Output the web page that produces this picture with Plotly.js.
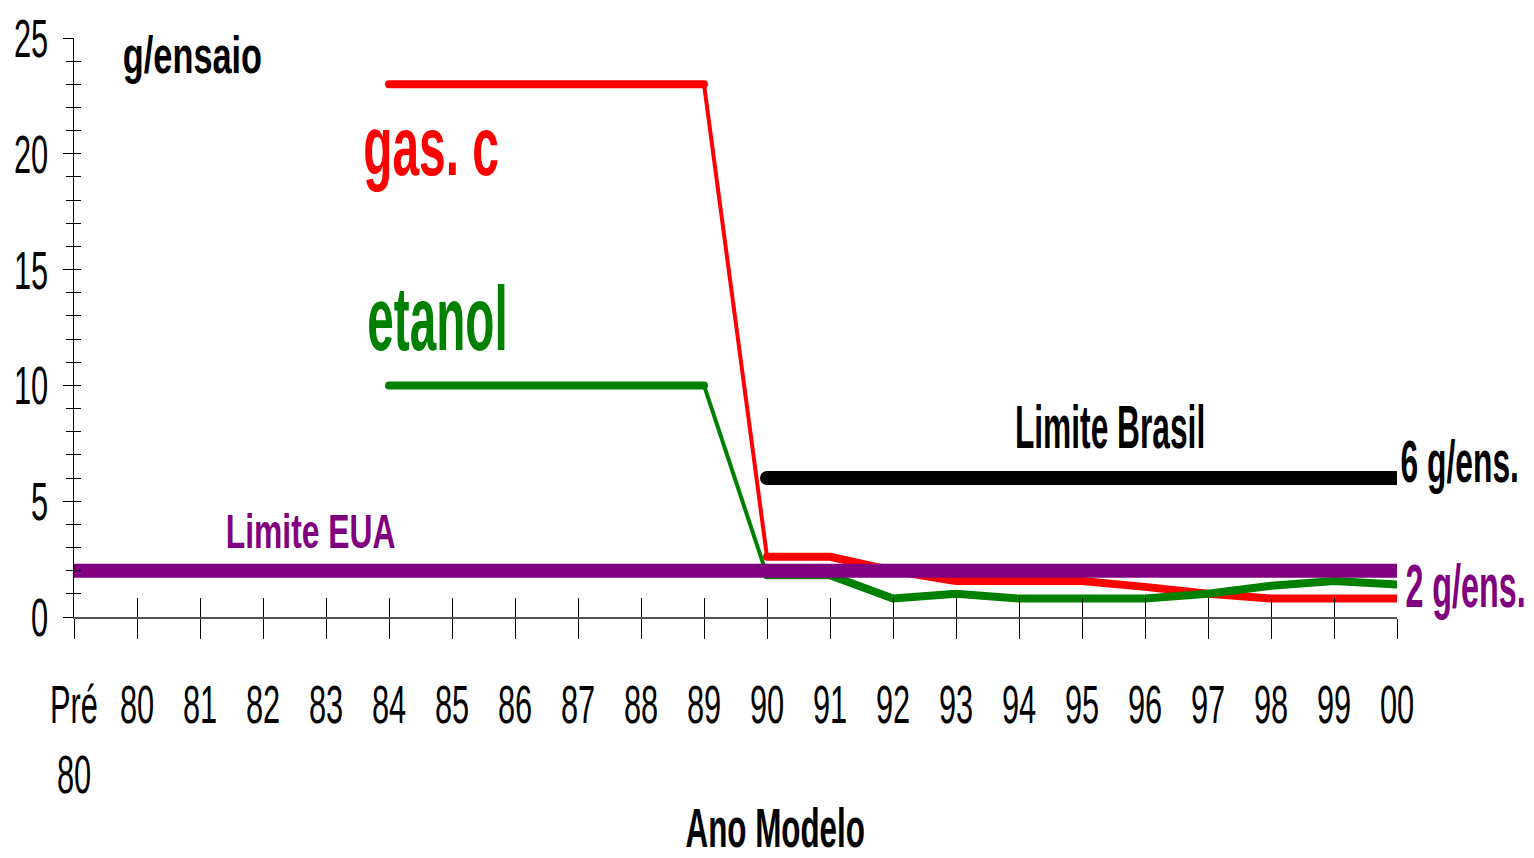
<!DOCTYPE html>
<html>
<head>
<meta charset="utf-8">
<script src="https://cdn.plot.ly/plotly-3.0.1.min.js"></script>
<style>
  html, body { margin: 0; padding: 0; background: #fff; }
  #chart { width: 1534px; height: 858px; }
</style>
</head>
<body>
<div id="chart"></div>
<script>
// ---- data ----
const years = ['Pré 80','80','81','82','83','84','85','86','87','88','89','90','91','92','93','94','95','96','97','98','99','00'];
const tickLabels = ['Pré<br>80','80','81','82','83','84','85','86','87','88','89','90','91','92','93','94','95','96','97','98','99','00'];
const gasC   = [null,null,null,null,null,23,23,23,23,23,23,2.6,2.6,2.0,1.55,1.55,1.55,1.3,1.0,0.8,0.8,0.8];
const etanol = [null,null,null,null,null,10,10,10,10,10,10,1.8,1.8,0.8,1.0,0.8,0.8,0.8,1.0,1.35,1.55,1.4];
const limiteBrasil = [null,null,null,null,null,null,null,null,null,null,null,6,6,6,6,6,6,6,6,6,6,6];
const limiteEUA = [2,2,2,2,2,2,2,2,2,2,2,2,2,2,2,2,2,2,2,2,2,2];

const FONT = 'Liberation Sans, Arial, sans-serif';
const iDrop = years.indexOf('89');   // start of steep drop segment
const iLow = years.indexOf('90');

function seg(arr, a, b) { return arr.slice(a, b); }

const traces = [
  // gasolina C
  {x: seg(years, 0, iDrop + 1), y: seg(gasC, 0, iDrop + 1), mode: 'lines', line: {color: '#ff0000', width: 8}, xaxis: 'x', yaxis: 'y'},
  {x: seg(years, iDrop, iLow + 1), y: seg(gasC, iDrop, iLow + 1), mode: 'lines', line: {color: '#ff0000', width: 4}, xaxis: 'x', yaxis: 'y'},
  {x: seg(years, iLow), y: seg(gasC, iLow), mode: 'lines', line: {color: '#ff0000', width: 8}, xaxis: 'x', yaxis: 'y'},
  // etanol
  {x: seg(years, 0, iDrop + 1), y: seg(etanol, 0, iDrop + 1), mode: 'lines', line: {color: '#008000', width: 8}, xaxis: 'x', yaxis: 'y'},
  {x: seg(years, iDrop, iLow + 1), y: seg(etanol, iDrop, iLow + 1), mode: 'lines', line: {color: '#008000', width: 4}, xaxis: 'x', yaxis: 'y'},
  {x: seg(years, iLow), y: seg(etanol, iLow), mode: 'lines', line: {color: '#008000', width: 8}, xaxis: 'x', yaxis: 'y'},
  // Limite Brasil
  {x: years, y: limiteBrasil, mode: 'lines', line: {color: '#000000', width: 14}, xaxis: 'x', yaxis: 'y'},
  // Limite EUA (drawn on the overlay so it sits on top)
  {x: years, y: limiteEUA, mode: 'lines', line: {color: '#800080', width: 14}, xaxis: 'x2', yaxis: 'y2'}
];

const annos = [
  {text: 'g/ensaio', x: 0.0899, y: 0.970, size: 52, color: '#000000', sx: 0.66},
  {text: 'gas. c', x: 0.2698, y: 0.8129, size: 84, color: '#ff0000', sx: 0.57},
  {text: 'etanol', x: 0.2751, y: 0.5153, size: 90, color: '#008000', sx: 0.53},
  {text: 'Limite Brasil', x: 0.7831, y: 0.3287, size: 61, color: '#000000', sx: 0.52},
  {text: '6 g/ens.', x: 1.0476, y: 0.2694, size: 60, color: '#000000', sx: 0.53},
  {text: '2 g/ens.', x: 1.0514, y: 0.0537, size: 61, color: '#800080', sx: 0.53},
  {text: 'Limite EUA', x: 0.1784, y: 0.149, size: 49, color: '#800080', sx: 0.65},
  {text: 'Ano Modelo', x: 0.5299, y: -0.3635, size: 56, color: '#000000', sx: 0.56}
];

const xCommon = {
  type: 'category', categoryorder: 'array', categoryarray: years,
  range: [0, years.length - 1], showgrid: false, zeroline: false, fixedrange: true, automargin: false
};
const yCommon = { range: [0, 25], showgrid: false, zeroline: false, fixedrange: true, automargin: false };

const layout = {
  width: 1534, height: 858,
  margin: {l: 74, r: 137, t: 38, b: 241, pad: 0},
  paper_bgcolor: '#ffffff', plot_bgcolor: '#ffffff',
  showlegend: false,
  xaxis: Object.assign({}, xCommon, {
    tickmode: 'array', tickvals: years, ticktext: tickLabels, tickangle: 0,
    ticks: 'outside', ticklen: 20, tickwidth: 1, tickcolor: '#000',
    showline: true, linecolor: '#555', linewidth: 1.5,
    ticklabelstandoff: 20,
    tickfont: {family: FONT, size: 54, color: '#000'}
  }),
  xaxis2: Object.assign({}, xCommon, {
    overlaying: 'x', anchor: 'y2', side: 'bottom',
    tickmode: 'array', tickvals: years, ticks: 'inside', ticklen: 19, tickwidth: 1, tickcolor: '#000',
    showticklabels: false, showline: false
  }),
  yaxis: Object.assign({}, yCommon, {
    tickmode: 'linear', tick0: 0, dtick: 5,
    ticks: 'outside', ticklen: 10, tickwidth: 1, tickcolor: '#000',
    minor: {dtick: 1, ticks: 'outside', ticklen: 7, tickwidth: 1, tickcolor: '#000'},
    showline: true, linecolor: '#000', linewidth: 1,
    ticklabelstandoff: 4,
    tickfont: {family: FONT, size: 54, color: '#000'}
  }),
  yaxis2: Object.assign({}, yCommon, {
    overlaying: 'y', anchor: 'x2', side: 'left',
    tickmode: 'linear', tick0: 0, dtick: 5,
    ticks: 'inside', ticklen: 7, tickwidth: 1, tickcolor: '#000',
    minor: {dtick: 1, ticks: 'inside', ticklen: 7, tickwidth: 1, tickcolor: '#000'},
    showticklabels: false, showline: false
  }),
  annotations: annos.map(a => ({
    text: a.text, xref: 'paper', yref: 'paper', x: a.x, y: a.y,
    xanchor: 'center', yanchor: 'middle', showarrow: false,
    font: {family: FONT, size: a.size, color: a.color, weight: 'bold'}
  }))
};

function squeeze(el, sx) {
  const bb = el.getBBox();
  const ta = el.getAttribute('text-anchor') || 'start';
  let ax = bb.x;
  if (ta === 'end') ax = bb.x + bb.width;
  else if (ta === 'middle') ax = bb.x + bb.width / 2;
  const prev = el.getAttribute('transform') || '';
  el.setAttribute('transform', prev + ' translate(' + ax + ',0) scale(' + sx + ',1) translate(' + (-ax) + ',0)');
}

const gd = document.getElementById('chart');
Plotly.newPlot(gd, traces, layout, {staticPlot: true, displayModeBar: false}).then(() => {
  gd.querySelectorAll('g.xtick text, g.ytick text').forEach(t => squeeze(t, 0.57));
  gd.querySelectorAll('g.annotation').forEach(g => {
    const i = +g.getAttribute('data-index');
    const t = g.querySelector('text');
    if (t && annos[i]) squeeze(t, annos[i].sx);
  });
  gd.querySelectorAll('.scatterlayer path.js-line').forEach(p => {
    p.style.strokeLinecap = 'round';
    p.style.strokeLinejoin = 'round';
  });
  gd.querySelectorAll('.cartesianlayer g.plot').forEach(g => g.removeAttribute('clip-path'));
  gd.querySelectorAll('.cartesianlayer .scatterlayer, .cartesianlayer .scatterlayer g').forEach(g => g.removeAttribute('clip-path'));
});
</script>
</body>
</html>
